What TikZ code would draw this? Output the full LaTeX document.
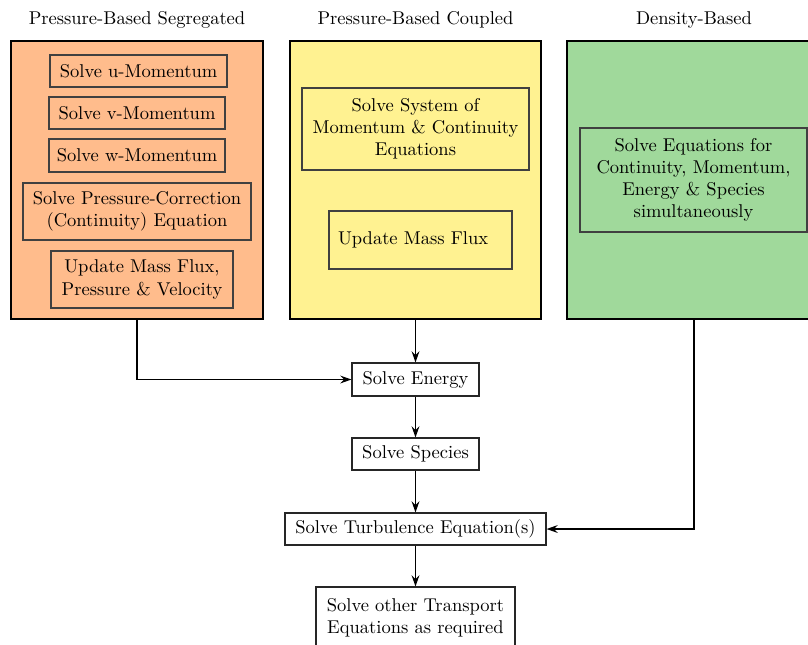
\documentclass[tikz,border=0pt]{standalone}
\usetikzlibrary{arrows.meta}
\definecolor{segc}{RGB}{255,188,140}
\definecolor{coupc}{RGB}{255,242,145}
\definecolor{densc}{RGB}{160,217,155}
\def\px{0.54pt}
\tikzset{
  outerbox/.style={draw=black, line width=1.3pt, inner sep=0pt},
  innerbox/.style={draw=black!75, line width=0.6pt, inner sep=0pt, align=center},
  flowbox/.style={draw=black!85, line width=0.6pt, inner sep=0pt, align=center, fill=white},
  sz/.style 2 args={minimum width=#1*\px, minimum height=#2*\px},
  arr/.style={line width=0.7pt, -{Stealth[length=6pt,width=4.2pt,inset=2pt]}},
  titletext/.style={inner sep=0pt}
}
\begin{document}
\begin{tikzpicture}[x=\px, y=-\px]
\useasboundingbox (0,0) rectangle (808,644);
% titles
\node[titletext] (t1) at (137,20) {Pressure-Based Segregated};
\node[titletext] (t2) at (415.5,20) {Pressure-Based Coupled};
\node[titletext] (t3) at (694,20) {Density-Based};
% outer boxes
\node[outerbox, fill=segc, sz={252}{278}] (seg) at (137,180) {};
\node[outerbox, fill=coupc, sz={251}{278}] (coup) at (415.5,180) {};
\node[outerbox, fill=densc, sz={254}{278}] (dens) at (694,180) {};
% segregated inner
\node[innerbox, sz={177}{32}] (u) at (138.5,71) {Solve u-Momentum};
\node[innerbox, sz={176}{32}] (v) at (137,113) {Solve v-Momentum};
\node[innerbox, sz={176}{33}] (w) at (137,155.5) {Solve w-Momentum};
\node[innerbox, sz={228}{57}] (pc) at (137,211.5) {Solve Pressure-Correction\\(Continuity) Equation};
\node[innerbox, sz={182}{57}] (upd) at (142,279.5) {Update Mass Flux,\\Pressure \& Velocity\hspace{4pt}};
% coupled inner
\node[innerbox, sz={227}{82}] (sys) at (415.5,129) {Solve System of\\Momentum \& Continuity\\Equations};
\node[innerbox, sz={183}{58}] (upd2) at (420.5,240) {Update Mass Flux\hspace{8pt}};
% density inner
\node[innerbox, sz={227}{104}] (den) at (693.5,180) {Solve Equations for\\Continuity, Momentum,\\Energy \& Species\\simultaneously};
% flow
\node[flowbox, sz={127}{33}] (energy) at (415.5,379.5) {Solve Energy};
\node[flowbox, sz={127}{32}] (species) at (415.5,454) {Solve Species};
\node[flowbox, sz={261}{32}] (turb) at (415.5,529) {Solve Turbulence Equation(s)};
\node[flowbox, sz={199}{62}] (other) at (415.5,618) {Solve other Transport\\Equations as required};
% connectors
\draw[arr] (seg.south) |- (energy.west);
\draw[arr] (coup.south) -- (energy.north);
\draw[arr] (energy.south) -- (species.north);
\draw[arr] (species.south) -- (turb.north);
\draw[arr] (turb.south) -- (other.north);
\draw[arr] (dens.south) |- (turb.east);
\end{tikzpicture}
\end{document}
